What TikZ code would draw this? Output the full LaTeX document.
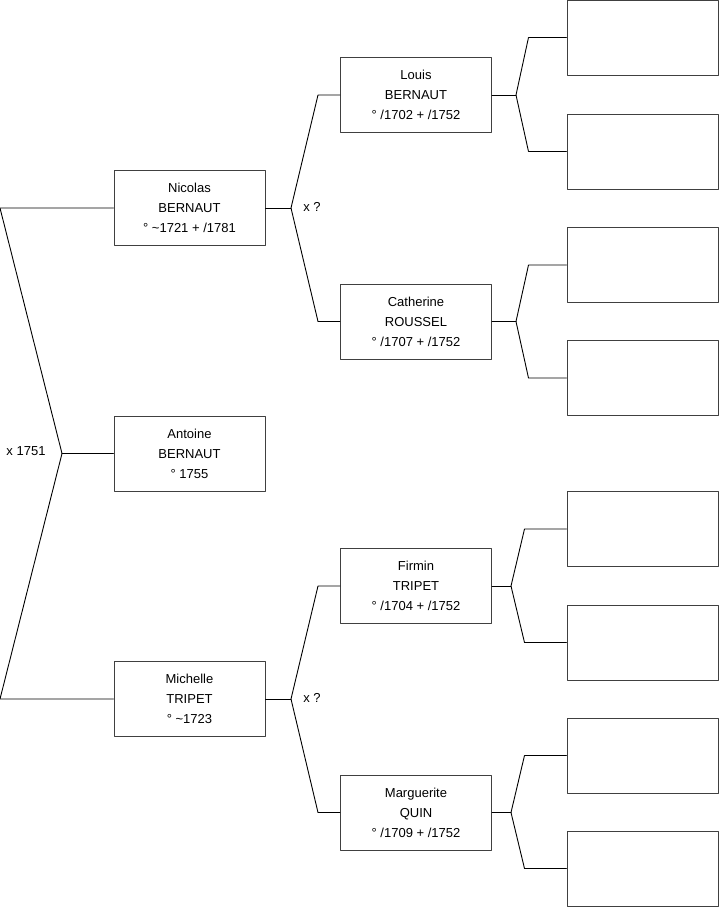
\documentclass[tikz,border=0pt]{standalone}
\usepackage{fontspec}
\setmainfont{Liberation Sans}
\usepackage{tikz}

\begin{document}
\begin{tikzpicture}[
   x=1pt,
   y=-1pt,
   line cap=round,
   line join=round,
   every node/.style={font=\fontsize{13}{20}\selectfont},
   person/.style={draw=black!75,line width=1pt,minimum width=151,minimum height=75,
     inner sep=0pt,align=center},
   link/.style={black,line width=0.9pt}
 ]
   \useasboundingbox (0,0) rectangle (719,908);

   % Child, parents and grandparents.
   \node[person] (antoine) at (189.5,453.5) {Antoine\\BERNAUT\\° 1755};
   \node[person] (nicolas) at (189.5,208) {Nicolas\\BERNAUT\\° \textasciitilde1721 + /1781};
   \node[person] (michelle) at (189.5,699) {Michelle\\TRIPET\\° \textasciitilde1723};
   \node[person] (louis) at (416,95) {Louis\\BERNAUT\\° /1702 + /1752};
   \node[person] (catherine) at (416,321.5) {Catherine\\ROUSSEL\\° /1707 + /1752};
   \node[person] (firmin) at (416,586) {Firmin\\TRIPET\\° /1704 + /1752};
   \node[person] (marguerite) at (416,812.5) {Marguerite\\QUIN\\° /1709 + /1752};

   % Empty boxes of the last generation.
   \node[person] (g1) at (642.5,37.5) {};
   \node[person] (g2) at (642.5,151.5) {};
   \node[person] (g3) at (642.5,265) {};
   \node[person] (g4) at (642.5,378) {};
   \node[person] (g5) at (642.5,529) {};
   \node[person] (g6) at (642.5,642.5) {};
   \node[person] (g7) at (642.5,755.5) {};
   \node[person] (g8) at (642.5,868.5) {};

   % Branch points.
   \coordinate (top) at (0,208);
   \coordinate (bot) at (0,699);
   \coordinate (ja) at (62,453.5);
   \coordinate (jn) at (291,208);
   \coordinate (jm) at (291,699);
   \coordinate (jl) at (516,95);
   \coordinate (jc) at (516,321.5);
   \coordinate (jf) at (511,586);
   \coordinate (jq) at (511,812.5);

   \draw[link] (nicolas.west) -- (top) -- (ja) -- (bot) -- (michelle.west);
   \draw[link] (ja) -- (antoine.west);
   \node at (26,451) {x 1751};

   \draw[link] (nicolas.east) -- (jn);
   \draw[link] (louis.west) -- ++(-22,0) -- (jn) -- ([xshift=-22]catherine.west) -- (catherine.west);
   \node at (312,207) {x ?};
   \draw[link] (michelle.east) -- (jm);
   \draw[link] (firmin.west) -- ++(-22,0) -- (jm) -- ([xshift=-22]marguerite.west) -- (marguerite.west);
   \node at (312,698) {x ?};

   \draw[link] (louis.east) -- (jl);
   \draw[link] (g1.west) -- ++(-38,0) -- (jl) -- ([xshift=-38]g2.west) -- (g2.west);
   \draw[link] (catherine.east) -- (jc);
   \draw[link] (g3.west) -- ++(-38,0) -- (jc) -- ([xshift=-38]g4.west) -- (g4.west);
   \draw[link] (firmin.east) -- (jf);
   \draw[link] (g5.west) -- ++(-42,0) -- (jf) -- ([xshift=-42]g6.west) -- (g6.west);
   \draw[link] (marguerite.east) -- (jq);
   \draw[link] (g7.west) -- ++(-42,0) -- (jq) -- ([xshift=-42]g8.west) -- (g8.west);
 \end{tikzpicture}
\end{document}
